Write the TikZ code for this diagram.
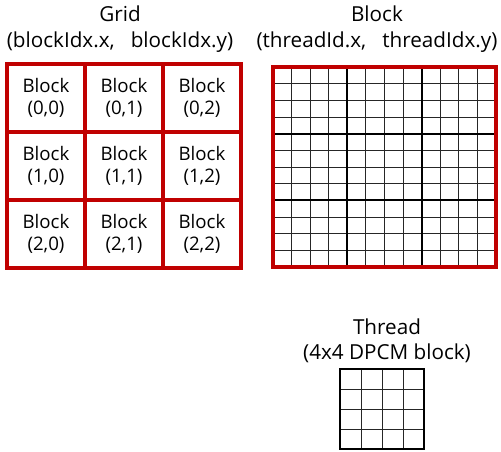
\documentclass[tikz,border=0pt]{standalone}
\usepackage{fontspec}
\setmainfont{Open Sans}
\usepackage{tikz}
\usepackage{xcolor}
\definecolor{gridred}{RGB}{192,0,0}

\tikzset{
  title/.style={align=center, font=\fontsize{15.5}{19}\selectfont, inner sep=0pt},
  cell/.style={draw=gridred, line width=3pt, minimum width=58.5pt, minimum height=51pt,
    align=center, inner sep=0pt, font=\fontsize{14}{17}\selectfont},
  thin/.style={line width=0.7pt, black!85},
  thick/.style={line width=1.6pt, black}
}

\begin{document}
\begin{tikzpicture}[x=0.75pt, y=-0.75pt]
\useasboundingbox (0,0) rectangle (501,451);

% Grid of blocks
\begin{scope}
\node[title] (gridtitle) at (120,29) {Grid\\(blockIdx.x,\ \ \ blockIdx.y)};
\foreach \r in {0,1,2}
  \foreach \c in {0,1,2}
    \node[cell] (b\r\c) at (46+78*\c,98+68*\r) {Block\\(\r,\c)};
\end{scope}

% One block of threads
\begin{scope}
\node[title] (blocktitle) at (377,29) {Block\\(threadId.x,\ \ \ threadIdx.y)};
\foreach \i in {1,...,11} {
  \draw[thin] (273+18.58*\i,67) -- (273+18.58*\i,267);
  \draw[thin] (273,67+16.67*\i) -- (496,67+16.67*\i);
}
% thick lines every 4 threads
\foreach \i in {4,8} {
  \draw[thick] (273+18.58*\i,67) -- (273+18.58*\i,267);
  \draw[thick] (273,67+16.67*\i) -- (496,67+16.67*\i);
}
\draw[draw=gridred, line width=3pt] (273,67) rectangle (496,267);
\end{scope}

% One thread
\begin{scope}
\node[title] (threadtitle) at (387,341) {Thread\\(4x4 DPCM block)};
\foreach \i in {1,2,3} {
  \draw[thin] (340+21*\i,369) -- (340+21*\i,449);
  \draw[thin] (340,369+20*\i) -- (424,369+20*\i);
}
\draw[line width=2pt] (340,369) rectangle (424,449);
\end{scope}
\end{tikzpicture}
\end{document}
